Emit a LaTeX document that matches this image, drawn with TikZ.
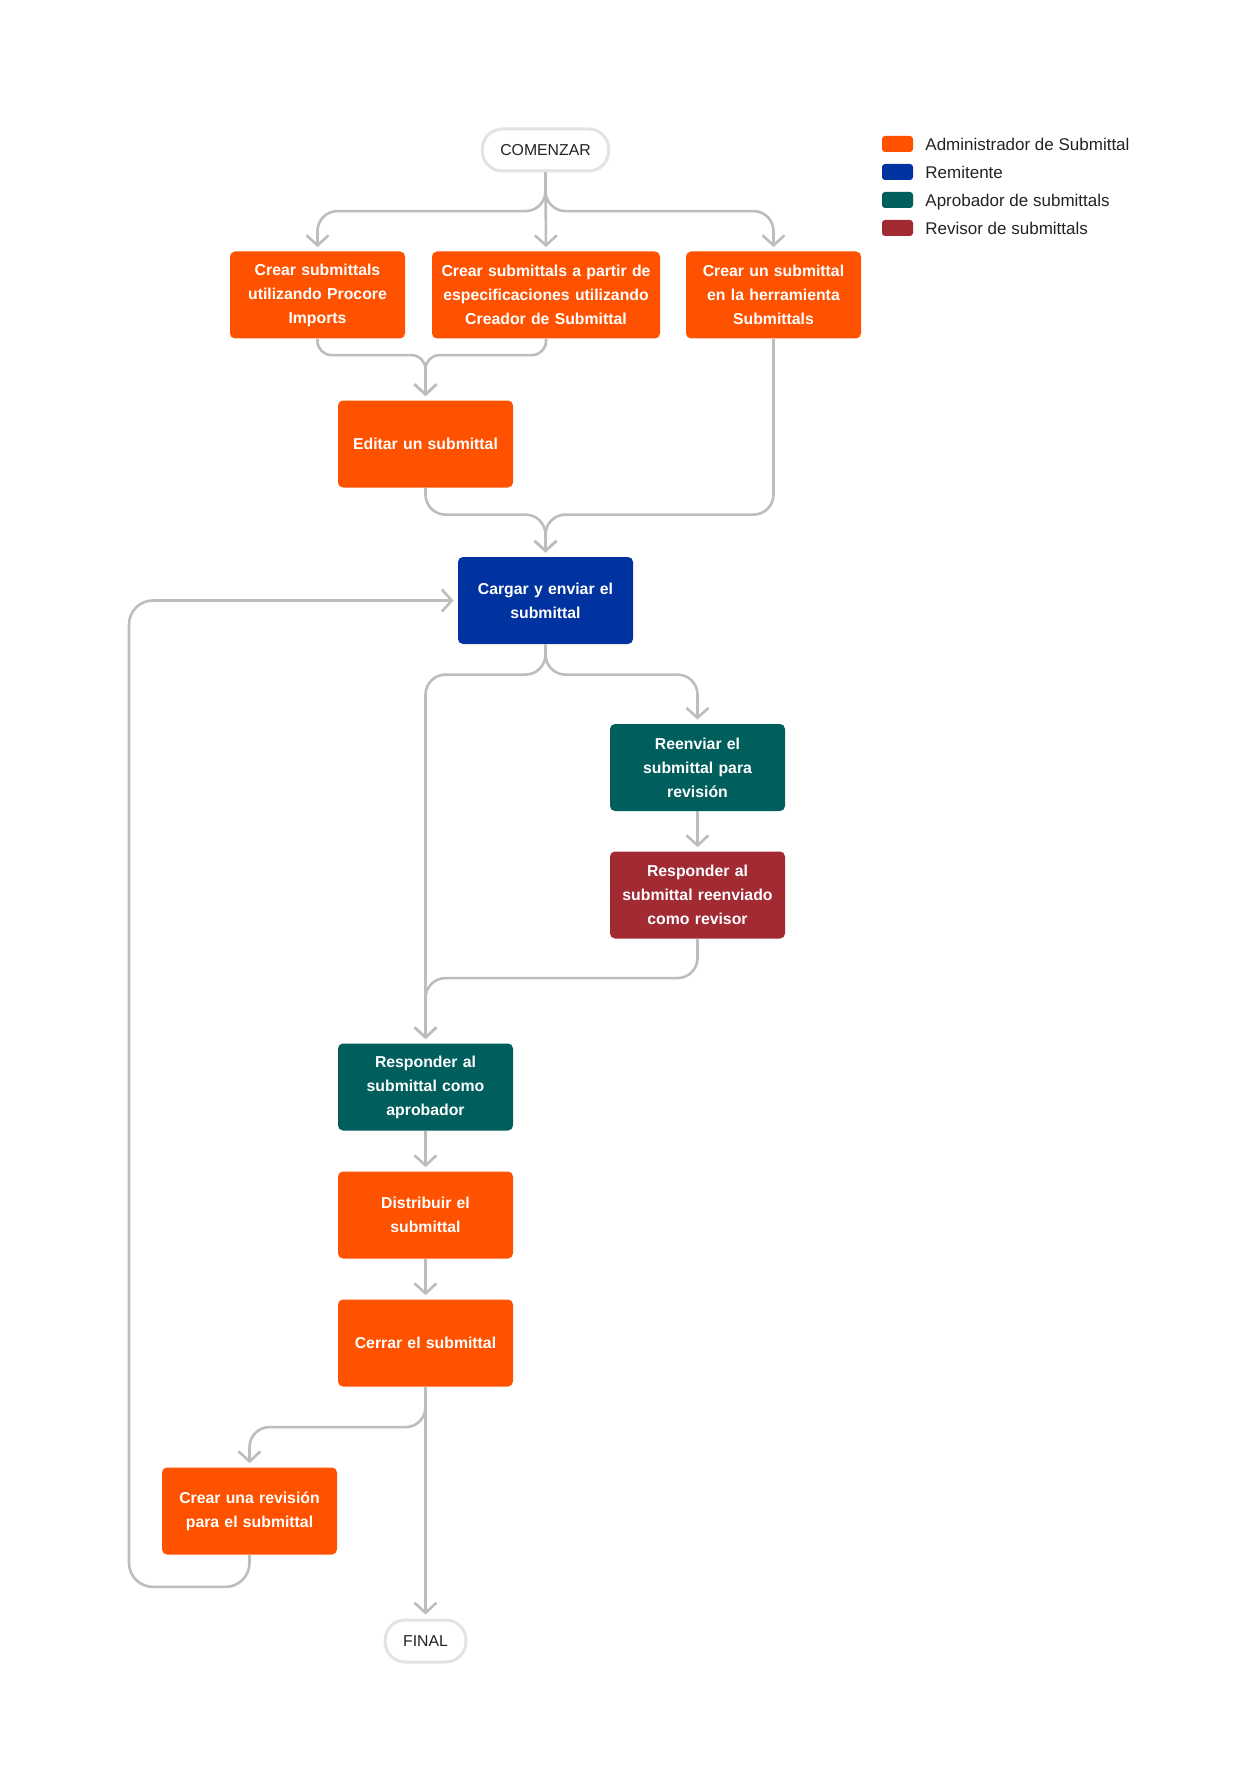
\documentclass[tikz,border=0pt]{standalone}
\usepackage{fontspec}
\setmainfont{Liberation Sans}
\usetikzlibrary{arrows.meta,calc}
\definecolor{admin}{HTML}{FF5200}
\definecolor{sender}{HTML}{0032A0}
\definecolor{approver}{HTML}{005E5D}
\definecolor{reviewer}{HTML}{A22A33}
\definecolor{connline}{HTML}{BDBDBD}
\definecolor{termline}{HTML}{E3E3E3}
\definecolor{keytext}{HTML}{232323}
\begin{document}
\begin{tikzpicture}[x=0.5pt,y=-0.5pt,
  box/.style={rounded corners=2.5pt,minimum width=87.5pt,minimum height=43.5pt,text width=86pt,align=center,text=white,inner sep=0pt,font=\bfseries\fontsize{7.9}{12}\selectfont},
  term/.style={draw=termline,line width=1.5pt,fill=white,rounded corners=10pt,minimum height=21pt,inner xsep=9pt,font=\fontsize{7.9}{9}\selectfont,text=keytext},
  conn/.style={draw=connline,line width=1.3pt,rounded corners=10pt},
  arr/.style={conn,-{Straight Barb[length=5pt,width=11pt]},shorten >=2pt},
  swatch/.style={rounded corners=1.5pt,minimum width=15.5pt,minimum height=8pt,inner sep=0pt},
  key/.style={anchor=west,inner sep=0pt,text height=6.2pt,text depth=0pt,font=\fontsize{8.5}{9}\selectfont,text=keytext}]
\useasboundingbox (0,0) rectangle (1256,1792);
\node[term] (start) at (545.5,150) {COMENZAR};
\node[box,fill=admin] (imports) at (317.5,295) {Crear submittals\\utilizando Procore\\Imports};
\node[box,fill=admin,minimum width=114pt,text width=112pt] (specs) at (546,295) {Crear submittals a partir de\\especificaciones utilizando\\Creador de Submittal};
\node[box,fill=admin] (tool) at (773.5,295) {Crear un submittal\\en la herramienta\\Submittals};
\node[box,fill=admin] (edit) at (425.5,444) {Editar un submittal};
\node[box,fill=sender] (upload) at (545.5,600.5) {Cargar y enviar el\\submittal};
\node[box,fill=approver] (forward) at (697.5,767.5) {Reenviar el\\submittal para\\revisión};
\node[box,fill=reviewer] (review) at (697.5,895) {Responder al\\submittal reenviado\\como revisor};
\node[box,fill=approver] (respond) at (425.5,1087) {Responder al\\submittal como\\aprobador};
\node[box,fill=admin] (distribute) at (425.5,1215) {Distribuir el\\submittal};
\node[box,fill=admin] (close) at (425.5,1343) {Cerrar el submittal};
\node[box,fill=admin] (revision) at (249.5,1511) {Crear una revisión\\para el submittal};
\node[term] (final) at (425.5,1641) {FINAL};
% legend
\foreach \c/\t [count=\i] in {admin/Administrador de Submittal,sender/Remitente,approver/Aprobador de submittals,reviewer/Revisor de submittals}{
  \node[swatch,fill=\c] (swatch\i) at (897.5,{116+28*\i}) {};
  \node[key] (key\i) at (925,{116+28*\i}) {\t};
}
% connectors
\draw[arr] (start.south) |- ($(imports.north)+(0,-40)$) -- (imports.north);
\draw[arr] (start.south) -- (specs.north);
\draw[arr] (start.south) |- ($(tool.north)+(0,-40)$) -- (tool.north);
\draw[arr,rounded corners=7pt] (imports.south) |- ($(edit.north)+(0,-45)$) -- (edit.north);
\draw[arr,rounded corners=7pt] (specs.south) |- ($(edit.north)+(0,-45)$) -- (edit.north);
\draw[arr] (edit.south) |- ($(upload.north)+(0,-42)$) -- (upload.north);
\draw[arr] (tool.south) |- ($(upload.north)+(0,-42)$) -- (upload.north);
\draw[arr] (upload.south) |- ($(forward.north)+(0,-49)$) -- (forward.north);
\draw[arr] (upload.south) |- ($(respond.north |- forward.north)+(0,-49)$) -- (respond.north);
\draw[arr] (forward) -- (review);
\draw[arr] (review.south) |- ($(respond.north)+(0,-65)$) -- (respond.north);
\draw[arr] (respond) -- (distribute);
\draw[arr] (distribute) -- (close);
\draw[arr] (close) -- (final);
\draw[arr] (close.south) |- ($(revision.north)+(0,-40)$) -- (revision.north);
\draw[arr,rounded corners=12pt] (revision.south) |- ($(revision.south)+(-120.5,32)$) |- (upload.west);
\end{tikzpicture}
\end{document}
